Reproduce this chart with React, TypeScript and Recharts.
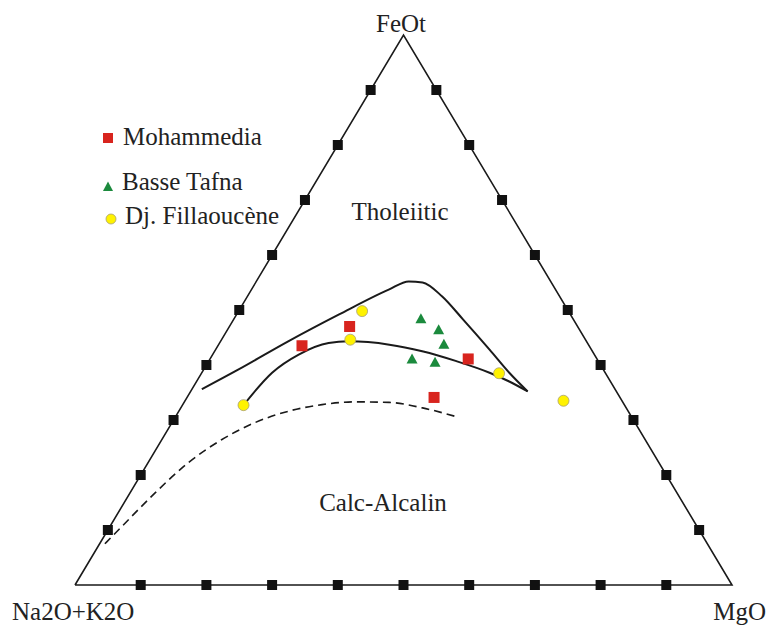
import React from 'react';
import { ComposedChart, XAxis, YAxis, Line, Scatter, Legend } from 'recharts';

// Ternary compositions: a = Na2O+K2O, f = FeOt, m = MgO (%)
const MOHAMMEDIA = [
  { a: 43.7, f: 43.5, m: 12.8 },
  { a: 34.7, f: 47.0, m: 18.3 },
  { a: 19.6, f: 41.1, m: 39.3 },
  { a: 28.3, f: 34.1, m: 37.6 },
];
const BASSE_TAFNA = [
  { a: 23.2, f: 48.3, m: 28.5 },
  { a: 21.5, f: 46.3, m: 32.2 },
  { a: 22.0, f: 43.7, m: 34.3 },
  { a: 28.2, f: 41.0, m: 30.8 },
  { a: 25.0, f: 40.4, m: 34.6 },
];
const FILLAOUCENE = [
  { a: 31.4, f: 49.8, m: 18.8 },
  { a: 35.8, f: 44.6, m: 19.6 },
  { a: 16.2, f: 38.5, m: 45.3 },
  { a: 58.0, f: 32.7, m: 9.3 },
  { a: 8.9, f: 33.5, m: 57.6 },
];
const UPPER_CURVE = [
  { a: 62.9, f: 35.6, m: 1.5 },
  { a: 55.5, f: 39.2, m: 5.3 },
  { a: 45.4, f: 44.3, m: 10.3 },
  { a: 35.2, f: 49.2, m: 15.6 },
  { a: 25.4, f: 53.7, m: 20.9 },
  { a: 21.6, f: 55.2, m: 23.2 },
  { a: 19.6, f: 55.0, m: 25.4 },
  { a: 17.9, f: 52.5, m: 29.6 },
  { a: 16.8, f: 48.3, m: 34.9 },
  { a: 15.5, f: 42.8, m: 41.7 },
  { a: 14.6, f: 38.6, m: 46.8 },
  { a: 13.5, f: 35.2, m: 51.3 },
];
const LOWER_CURVE = [
  { a: 58.0, f: 32.7, m: 9.3 },
  { a: 50.7, f: 38.6, m: 10.7 },
  { a: 45.0, f: 41.9, m: 13.1 },
  { a: 39.4, f: 44.0, m: 16.6 },
  { a: 36.2, f: 44.3, m: 19.5 },
  { a: 30.3, f: 43.7, m: 26.0 },
  { a: 25.9, f: 42.5, m: 31.6 },
  { a: 21.6, f: 40.7, m: 37.7 },
  { a: 17.6, f: 38.6, m: 43.8 },
  { a: 15.4, f: 37.0, m: 47.6 },
  { a: 13.5, f: 35.2, m: 51.3 },
];
const DASHED_CURVE = [
  { a: 91.7, f: 7.5, m: 0.8 },
  { a: 87.6, f: 10.6, m: 1.8 },
  { a: 79.5, f: 16.7, m: 3.8 },
  { a: 71.7, f: 22.2, m: 6.1 },
  { a: 64.5, f: 26.4, m: 9.1 },
  { a: 57.9, f: 29.5, m: 12.6 },
  { a: 51.7, f: 31.6, m: 16.7 },
  { a: 46.0, f: 32.8, m: 21.2 },
  { a: 40.7, f: 33.3, m: 26.0 },
  { a: 35.6, f: 33.2, m: 31.2 },
  { a: 31.0, f: 32.2, m: 36.8 },
  { a: 26.9, f: 30.7, m: 42.4 },
];
const TICK_VALUES = [10, 20, 30, 40, 50, 60, 70, 80, 90];
const VERTICES = [
  { a: 100, f: 0, m: 0 },
  { a: 0, f: 100, m: 0 },
  { a: 0, f: 0, m: 100 },
  { a: 100, f: 0, m: 0 },
];
const APEX_LABELS = { a: 'Na2O+K2O', f: 'FeOt', m: 'MgO' };
const FIELD_LABELS = ['Tholeiitic', 'Calc-Alcalin'];

type Comp = { a: number; f: number; m: number };
const toXY = (c: Comp) => {
  const s = c.a + c.f + c.m;
  const f = (c.f / s) * 100;
  const m = (c.m / s) * 100;
  return { x: m + f / 2, y: f };
};

const ticks = [
  ...TICK_VALUES.map((t) => toXY({ a: 100 - t, f: t, m: 0 })),
  ...TICK_VALUES.map((t) => toXY({ a: 0, f: t, m: 100 - t })),
  ...TICK_VALUES.map((t) => toXY({ a: 100 - t, f: 0, m: t })),
];

const RED = '#d8241e';
const GREEN = '#1b8a3d';
const YELLOW = '#fff200';
const TEXT_STYLE: React.CSSProperties = { fontFamily: "'Liberation Serif', serif", fontSize: 25 };

const SquareMark = (props: any) => {
  const { cx, cy } = props;
  if (cx == null || cy == null) return null;
  return <rect x={cx - 5.5} y={cy - 5.5} width={11} height={11} fill={RED} />;
};
const TriangleMark = (props: any) => {
  const { cx, cy } = props;
  if (cx == null || cy == null) return null;
  return <polygon points={`${cx},${cy - 6} ${cx + 5.5},${cy + 4} ${cx - 5.5},${cy + 4}`} fill={GREEN} />;
};
const CircleMark = (props: any) => {
  const { cx, cy } = props;
  if (cx == null || cy == null) return null;
  return <circle cx={cx} cy={cy} r={5.5} fill={YELLOW} stroke="#a8a070" strokeWidth={0.8} />;
};
const TickMark = (props: any) => {
  const { cx, cy } = props;
  if (cx == null || cy == null) return null;
  return <rect x={cx - 5} y={cy - 5} width={10} height={10} fill="#111" />;
};

const LEGEND_LAYOUT: Record<string, { mx: number; my: number; tx: number; ty: number }> = {
  Mohammedia: { mx: 18, my: 28, tx: 33, ty: 35 },
  'Basse Tafna': { mx: 18, my: 77, tx: 32, ty: 80 },
  'Dj. Fillaoucène': { mx: 21, my: 109, tx: 35, ty: 114 },
};

const renderLegend = (props: any) => {
  const payload = (props.payload || []).filter((p: any) => LEGEND_LAYOUT[p.value]);
  return (
    <svg width={210} height={130}>
      {payload.map((p: any) => {
        const l = LEGEND_LAYOUT[p.value];
        let mark = null;
        if (p.value === 'Mohammedia')
          mark = <rect x={l.mx - 5} y={l.my - 5} width={10} height={10} fill={RED} />;
        else if (p.value === 'Basse Tafna')
          mark = <polygon points={`${l.mx},${l.my - 5.5} ${l.mx + 5},${l.my + 4} ${l.mx - 5},${l.my + 4}`} fill={GREEN} />;
        else mark = <circle cx={l.mx} cy={l.my} r={5} fill={YELLOW} stroke="#a8a070" strokeWidth={0.8} />;
        return (
          <g key={p.value}>
            {mark}
            <text x={l.tx} y={l.ty} style={TEXT_STYLE} fill="#222">
              {p.value}
            </text>
          </g>
        );
      })}
    </svg>
  );
};

export default function App() {
  return (
    <div style={{ position: 'absolute', left: 0, top: 0, width: 769, height: 626, background: '#fff' }}>
      <ComposedChart width={769} height={626} margin={{ top: 35, right: 37, bottom: 41, left: 75 }}>
        <XAxis type="number" dataKey="x" domain={[0, 100]} hide />
        <YAxis type="number" dataKey="y" domain={[0, 100]} hide />
        <Legend
          layout="horizontal"
          verticalAlign="middle"
          align="center"
          content={renderLegend}
          wrapperStyle={{ position: 'absolute', left: 90, top: 110, width: 210, height: 130 }}
        />
        <Line
          data={VERTICES.map(toXY)}
          dataKey="y"
          type="linear"
          stroke="#1a1a1a"
          strokeWidth={1.6}
          dot={false}
          activeDot={false}
          legendType="none"
          isAnimationActive={false}
        />
        <Line
          data={UPPER_CURVE.map(toXY)}
          dataKey="y"
          type="monotone"
          stroke="#1a1a1a"
          strokeWidth={2}
          dot={false}
          activeDot={false}
          legendType="none"
          isAnimationActive={false}
        />
        <Line
          data={LOWER_CURVE.map(toXY)}
          dataKey="y"
          type="monotone"
          stroke="#1a1a1a"
          strokeWidth={2}
          dot={false}
          activeDot={false}
          legendType="none"
          isAnimationActive={false}
        />
        <Line
          data={DASHED_CURVE.map(toXY)}
          dataKey="y"
          type="monotone"
          stroke="#1a1a1a"
          strokeWidth={1.6}
          strokeDasharray="8 5"
          dot={false}
          activeDot={false}
          legendType="none"
          isAnimationActive={false}
        />
        <Scatter data={ticks} shape={TickMark} legendType="none" isAnimationActive={false} />
        <Scatter name="Mohammedia" data={MOHAMMEDIA.map(toXY)} fill={RED} shape={SquareMark} legendType="square" isAnimationActive={false} />
        <Scatter name="Basse Tafna" data={BASSE_TAFNA.map(toXY)} fill={GREEN} shape={TriangleMark} legendType="triangle" isAnimationActive={false} />
        <Scatter name="Dj. Fillaoucène" data={FILLAOUCENE.map(toXY)} fill={YELLOW} shape={CircleMark} legendType="circle" isAnimationActive={false} />
        <text x={401} y={32} textAnchor="middle" style={TEXT_STYLE} fill="#222">{APEX_LABELS.f}</text>
        <text x={12} y={620} textAnchor="start" style={TEXT_STYLE} fill="#222">{APEX_LABELS.a}</text>
        <text x={766} y={620} textAnchor="end" style={TEXT_STYLE} fill="#222">{APEX_LABELS.m}</text>
        <text x={400} y={220} textAnchor="middle" style={TEXT_STYLE} fill="#222">{FIELD_LABELS[0]}</text>
        <text x={383} y={511} textAnchor="middle" style={TEXT_STYLE} fill="#222">{FIELD_LABELS[1]}</text>
      </ComposedChart>
    </div>
  );
}
